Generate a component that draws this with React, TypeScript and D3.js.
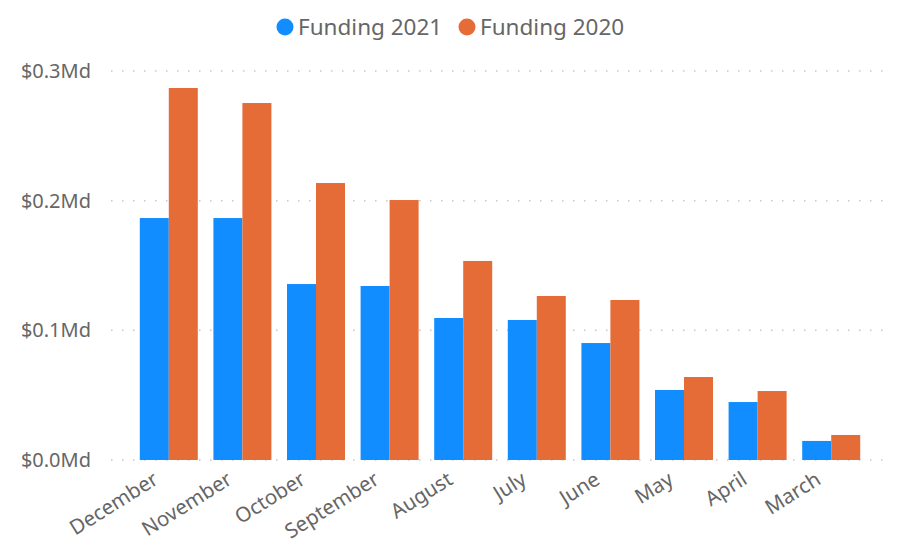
import React from "react";
import * as d3 from "d3";

const categories = ["December", "November", "October", "September", "August", "July", "June", "May", "April", "March"];
const funding2021 = [0.1866, 0.1866, 0.1357, 0.1342, 0.1095, 0.108, 0.0902, 0.054, 0.0447, 0.0147];
const funding2020 = [0.2869, 0.2753, 0.2136, 0.2005, 0.1535, 0.1265, 0.1234, 0.064, 0.0532, 0.0193];
const seriesNames = ["Funding 2021", "Funding 2020"];
const yTicks = [0, 0.1, 0.2, 0.3];

const colors = ["#118DFF", "#E66C37"];
const font = "'Segoe UI', 'Noto Sans', sans-serif";

export default function App() {
  const W = 897, H = 542;
  const x = d3.scaleBand<string>().domain(categories).range([132, 868]).paddingInner(0.212).paddingOuter(0.106);
  const x1 = d3.scaleBand<number>().domain([0, 1]).range([0, x.bandwidth()]);
  const y = d3.scaleLinear().domain([0, 0.3]).range([460, 71]);
  const series = [funding2021, funding2020];
  const fmt = (v: number) => `$${v.toFixed(1)}Md`;

  return (
    <svg width={W} height={H} style={{ position: "absolute", left: 0, top: 0, background: "#fff" }}>
      {yTicks.map((t) => (
        <g key={t}>
          <line x1={111} x2={890} y1={y(t)} y2={y(t)} stroke="#c8c8c8" strokeWidth={1.5} strokeDasharray="1.5 9.5" />
          <text x={91} y={y(t)} dy="0.35em" textAnchor="end" fontFamily={font} fontSize={20} fill="#666">{fmt(t)}</text>
        </g>
      ))}
      {categories.map((c, i) => (
        <g key={c} transform={`translate(${x(c)},0)`}>
          {series.map((s, j) => (
            <rect key={j} x={x1(j)} y={y(s[i])} width={x1.bandwidth()} height={y(0) - y(s[i])} fill={colors[j]} />
          ))}
        </g>
      ))}
      {categories.map((c) => {
        const cx = (x(c) as number) + x.bandwidth() / 2 - 9;
        const cy = 483;
        return (
          <text key={c} transform={`translate(${cx},${cy}) rotate(-32)`} textAnchor="end" fontFamily={font} fontSize={20.5} fill="#666">{c}</text>
        );
      })}
      {seriesNames.map((n, j) => {
        const lx = [285, 467][j];
        return (
          <g key={n}>
            <circle cx={lx} cy={27} r={8.5} fill={colors[j]} />
            <text x={lx + 13} y={27} dy="0.35em" fontFamily={font} fontSize={22.5} fill="#666">{n}</text>
          </g>
        );
      })}
    </svg>
  );
}
